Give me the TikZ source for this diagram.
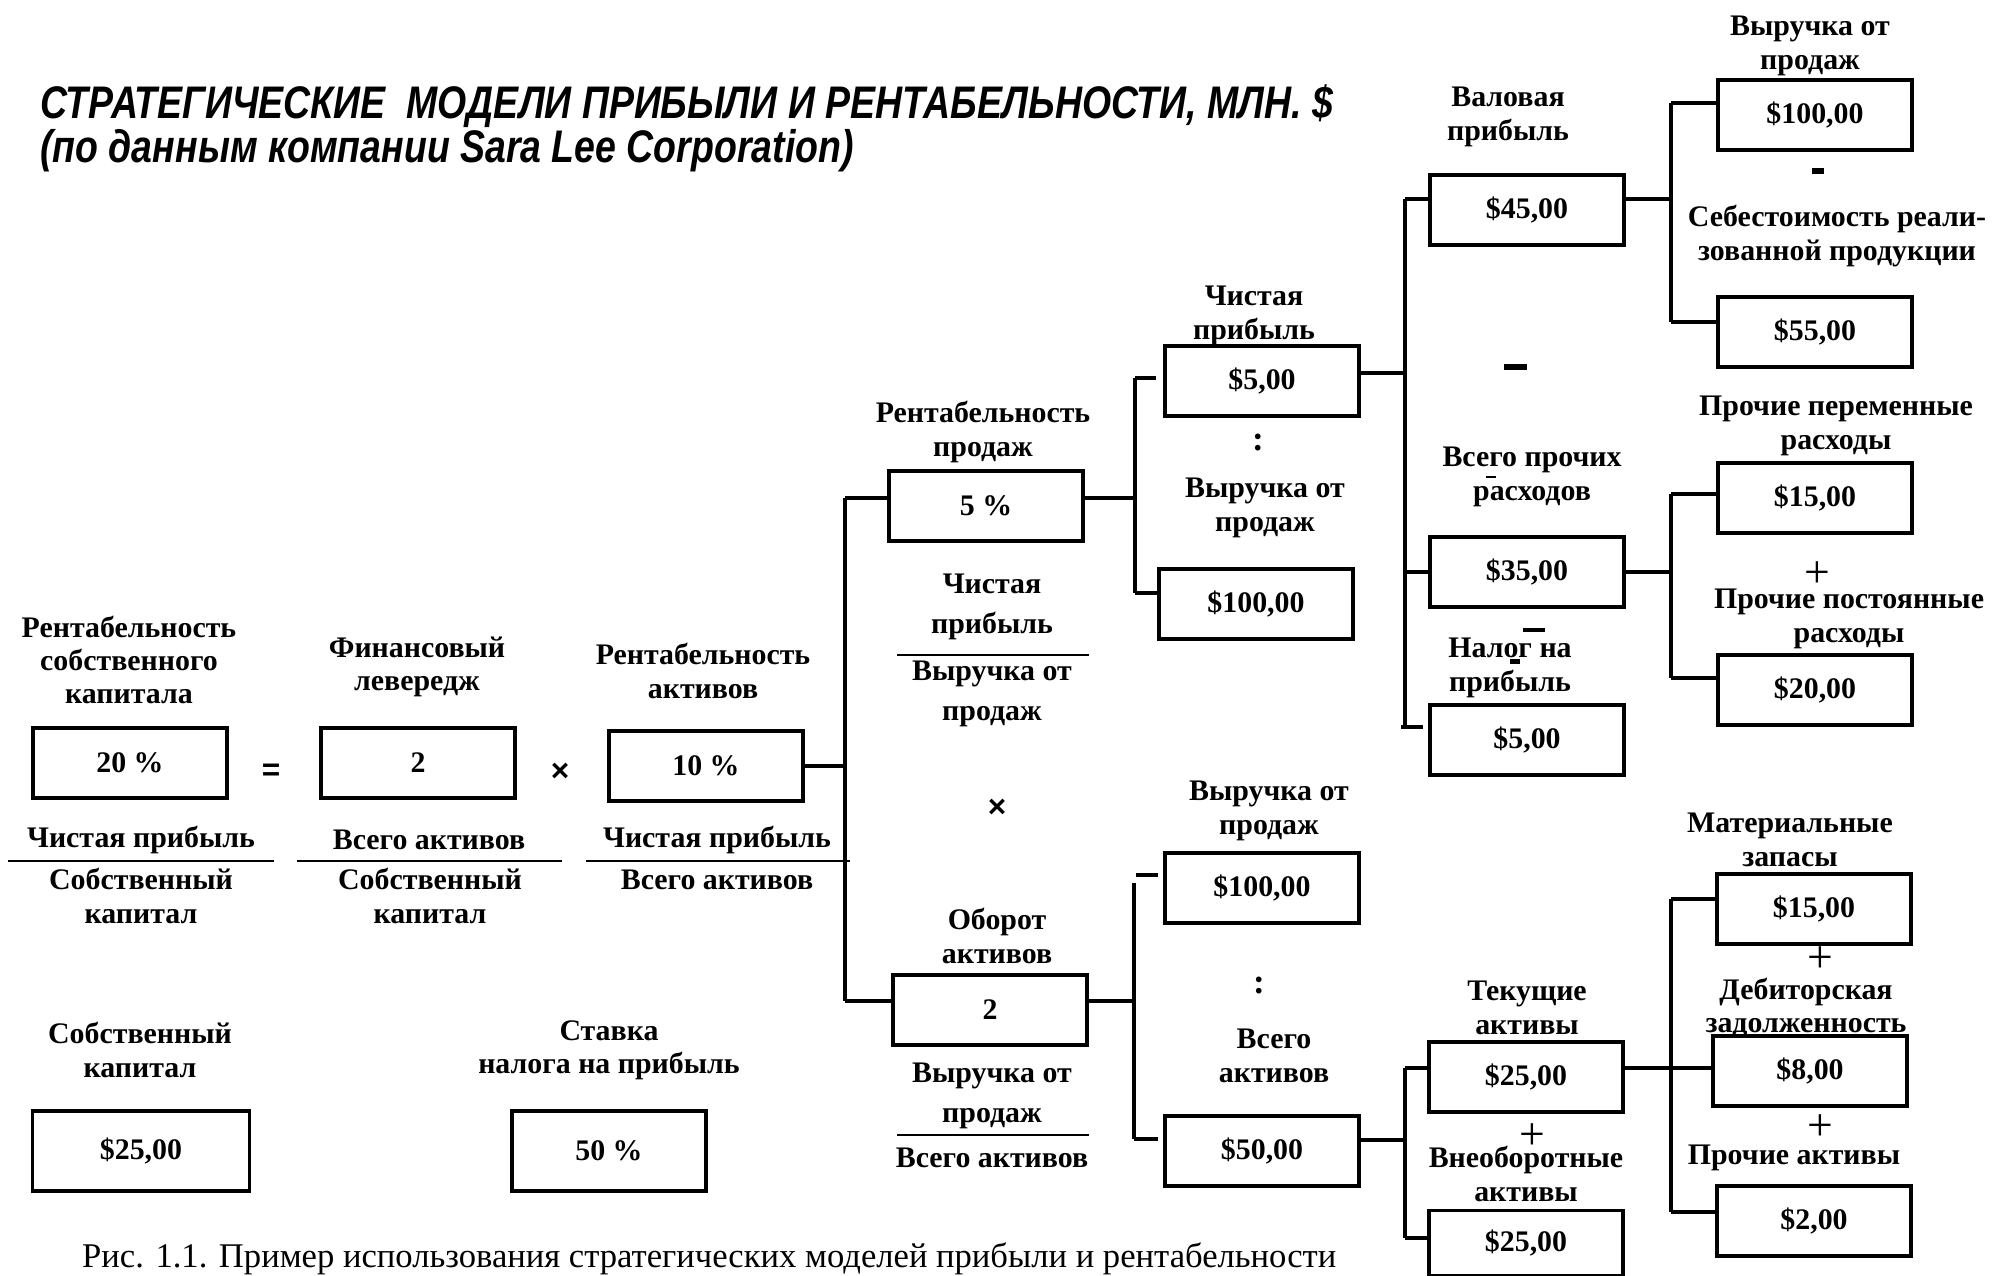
\documentclass[tikz,border=0pt]{standalone}
\usepackage{fontspec}
\setmainfont{Liberation Serif}
\setsansfont{Liberation Sans}
\newfontfamily\titlefont[FakeStretch=0.82]{Liberation Sans}
\usetikzlibrary{calc}

\begin{document}
\begin{tikzpicture}[x=0.02cm, y=-0.02cm,
	valbox/.style={draw, line width=2.2pt, minimum width=3.88cm, minimum height=1.4cm, inner sep=0pt, font=\fontsize{17}{19}\selectfont\bfseries},
	lbl/.style={align=center, inner sep=0pt, font=\fontsize{17}{19}\selectfont\bfseries},
	fr/.style={align=center, inner sep=0pt, font=\fontsize{17}{23}\selectfont\bfseries},
	sign/.style={inner sep=0pt, font=\fontsize{18}{19}\selectfont\sffamily\bfseries},
	plus/.style={inner sep=0pt, font=\fontsize{26}{26}\selectfont},
	minus/.style={inner sep=0pt},
	wire/.style={line width=2.2pt},
	bar/.style={line width=1.6pt}]
				\useasboundingbox (0,0) rectangle (1993,1275);

				\node[anchor=base west, font=\titlefont\fontsize{26}{30}\selectfont\bfseries\itshape] (title1) at (34,118) {СТРАТЕГИЧЕСКИЕ\ \ МОДЕЛИ ПРИБЫЛИ И РЕНТАБЕЛЬНОСТИ, МЛН. \$};
				\node[anchor=base west, font=\titlefont\fontsize{26}{30}\selectfont\bfseries\itshape] (title2) at (34,162) {(по данным компании Sara Lee Corporation)};

				\node[valbox] (roe) at (130,763) {20 \%};
				\node[valbox] (lev) at (418,763) {2};
				\node[valbox] (roa) at (706,766) {10 \%};
				\node[valbox, minimum width=4.34cm, minimum height=1.6cm] (eq) at (141,1151) {\$25,00};
				\node[valbox, minimum height=1.6cm] (tr) at (609,1151) {50 \%};
				\node[valbox] (sm) at (986,506) {5 \%};
				\node[valbox] (at) at (990,1010) {2};
				\node[valbox] (np) at (1262,381) {\$5,00};
				\node[valbox] (rv1) at (1256,604) {\$100,00};
				\node[valbox] (rv2) at (1262,888) {\$100,00};
				\node[valbox] (ta) at (1262,1151) {\$50,00};
				\node[valbox] (gp) at (1527,210) {\$45,00};
				\node[valbox] (ox) at (1527,572) {\$35,00};
				\node[valbox] (tx) at (1527,740) {\$5,00};
				\node[valbox] (ca) at (1526,1077) {\$25,00};
				\node[valbox, minimum height=1.3cm] (nca) at (1526,1243) {\$25,00};
				\node[valbox] (rv3) at (1815,115) {\$100,00};
				\node[valbox] (cogs) at (1815,332) {\$55,00};
				\node[valbox] (ve) at (1815,498) {\$15,00};
				\node[valbox] (fe) at (1815,690) {\$20,00};
				\node[valbox] (inv) at (1814,909) {\$15,00};
				\node[valbox] (ar) at (1810,1071) {\$8,00};
				\node[valbox] (oa) at (1814,1221) {\$2,00};

				\node[lbl] (roeL) at (129,660) {Рентабельность\\собственного\\капитала};
				\node[lbl] (levL) at (417,667) {Финансовый\\левередж};
				\node[lbl] (roaL) at (703,671) {Рентабельность\\активов};
				\node[lbl] (f1n) at (141,840) {Чистая прибыль};
				\node[lbl] (f1d) at (141,896) {Собственный\\капитал};
				\node[lbl] (f2n) at (429,840) {Всего активов};
				\node[lbl] (f2d) at (430,896) {Собственный\\капитал};
				\node[lbl] (f3n) at (717,840) {Чистая прибыль};
				\node[lbl] (f3d) at (717,880) {Всего активов};
				\node[lbl] (eqL) at (140,1050) {Собственный\\капитал};
				\node[lbl] (trL) at (609,1050) {Ставка\\налога на прибыль};
				\node[lbl] (smL) at (983,432) {Рентабельность\\продаж};
				\node[fr] (smn) at (992,607) {Чистая\\прибыль};
				\node[fr] (smd) at (992,694) {Выручка от\\продаж};
				\node[lbl] (atL) at (997,936) {Оборот\\активов};
				\node[fr] (atn) at (992,1096) {Выручка от\\продаж};
				\node[lbl] (atd) at (992,1158) {Всего активов};
				\node[lbl] (npL) at (1254,316) {Чистая\\прибыль};
				\node[lbl] (rv1L) at (1265,508) {Выручка от\\продаж};
				\node[lbl] (rv2L) at (1269,811) {Выручка от\\продаж};
				\node[lbl] (taL) at (1274,1056) {Всего\\активов};
				\node[lbl] (gpL) at (1508,117) {Валовая\\прибыль};
				\node[lbl] (rv3L) at (1810,46) {Выручка от\\продаж};
				\node[lbl] (cogsL) at (1837,236) {Себестоимость реали-\\зованной продукции};
				\node[lbl] (oxL) at (1532,477) {Всего прочих\\расходов};
				\node[lbl] (txL) at (1510,668) {Налог на\\прибыль};
				\node[lbl] (veL) at (1836,426) {Прочие переменные\\расходы};
				\node[lbl] (feL) at (1849,619) {Прочие постоянные\\расходы};
				\node[lbl] (caL) at (1527,1008) {Текущие\\активы};
				\node[lbl] (ncaL) at (1526,1174) {Внеоборотные\\активы};
				\node[lbl] (invL) at (1790,840) {Материальные\\запасы};
				\node[lbl] (arL) at (1806,1008) {Дебиторская\\задолженность};
				\node[lbl] (oaL) at (1794,1158) {Прочие активы};

				\node[sign] (s1) at (271,772) {=};
				\node[sign] (s2) at (560,772) {×};
				\node[sign] (s3) at (997,808) {×};
				\node[lbl, font=\fontsize{20}{20}\selectfont\bfseries] (s4) at (1258,443) {:};
				\node[lbl, font=\fontsize{20}{20}\selectfont\bfseries] (s5) at (1259,985) {:};
				\node[minus] (s6) at (1818,171) {\rule{0.25cm}{0.11cm}};
				\node[minus] (s7) at (1515,367) {\rule{0.46cm}{0.12cm}};
				\node[minus] (s8) at (1534,630) {\rule{0.44cm}{0.08cm}};
				\node[minus] (s9) at (1491,477) {\rule{0.2cm}{0.04cm}};
				\node[minus] (s10) at (1515,661) {\rule{0.21cm}{0.1cm}};
				\node[plus] (s11) at (1817,575) {+};
				\node[plus] (s12) at (1820,960) {+};
				\node[plus] (s13) at (1820,1128) {+};
				\node[plus] (s14) at (1532,1137) {+};

				\draw[bar] (8,861) -- (274,861);
				\draw[bar] (297,861) -- (562,861);
				\draw[bar] (586,861) -- (850,861);
				\draw[bar] (897,655) -- (1089,655);
				\draw[bar] (897,1135) -- (1089,1135);

				\coordinate (aT) at (845,498);
				\coordinate (aB) at (845,1001);
				\coordinate (bT) at (1135,378);
				\coordinate (bB) at (1135,593);
				\coordinate (cT) at (1134,883);
				\coordinate (cS) at (1136,875);
				\coordinate (cB) at (1134,1139);
				\coordinate (dT) at (1405,199);
				\coordinate (dB) at (1405,727);
				\coordinate (eT) at (1671,103);
				\coordinate (eB) at (1671,322);
				\coordinate (fT) at (1671,494);
				\coordinate (fB) at (1671,678);
				\coordinate (gT) at (1405,1068);
				\coordinate (gB) at (1405,1238);
				\coordinate (hT) at (1671,899);
				\coordinate (hB) at (1671,1212);

				\draw[wire] (roa.east) -- (roa.east -| aT);
				\draw[wire] (aT) -- (aB);
				\draw[wire] (aT) -- (aT -| sm.west);
				\draw[wire] (aB) -- (aB -| at.west);

				\draw[wire] (sm.east |- aT) -- (bT |- aT);
				\draw[wire] (bT) -- (bB);
				\draw[wire, shorten >=0.14cm] (bT) -- (bT -| np.west);
				\draw[wire] (bB) -- (bB -| rv1.west);

				\draw[wire] (at.east |- aB) -- (cT |- aB);
				\draw[wire] (cT) -- (cB);
				\draw[wire, shorten >=0.1cm] (cS) -- (cS -| rv2.west);
				\draw[wire, shorten >=0.1cm] (cB) -- (cB -| ta.west);

				\draw[wire] ($(np.east)+(0,-8)$) -- ($(np.east -| dT)+(0,-8)$);
				\draw[wire] (dT) -- (dB);
				\draw[wire] (dT) -- (dT -| gp.west);
				\draw[wire] (dT |- ox.west) -- (ox.west);
				\draw[wire, shorten >=0.1cm] ([xshift=-0.08cm]dB) -- (dB -| tx.west);

				\draw[wire] (gp.east |- dT) -- (eT |- dT);
				\draw[wire] (eT) -- (eB);
				\draw[wire] (eT) -- (eT -| rv3.west);
				\draw[wire] (eB) -- (eB -| cogs.west);

				\draw[wire] (ox.east) -- (ox.east -| fT);
				\draw[wire] (fT) -- (fB);
				\draw[wire] (fT) -- (fT -| ve.west);
				\draw[wire] (fB) -- (fB -| fe.west);

				\draw[wire] ($(ta.east)+(0,-11)$) -- ($(ta.east -| gT)+(0,-11)$);
				\draw[wire] (gT) -- (gB);
				\draw[wire] (gT) -- (gT -| ca.west);
				\draw[wire] (gB) -- (gB -| nca.west);

				\draw[wire] ($(ca.east)+(0,-9)$) -- ($(ar.west)+(0.08,-3)$);
				\draw[wire] (hT) -- (hB);
				\draw[wire] (hT) -- (hT -| inv.west);
				\draw[wire] (hB) -- (hB -| oa.west);

				\node[anchor=base west, font=\fontsize{19.7}{24}\selectfont] (caption) at (76,1267) {Рис. 1.1. Пример использования стратегических моделей прибыли и рентабельности};
			\end{tikzpicture}
\end{document}
